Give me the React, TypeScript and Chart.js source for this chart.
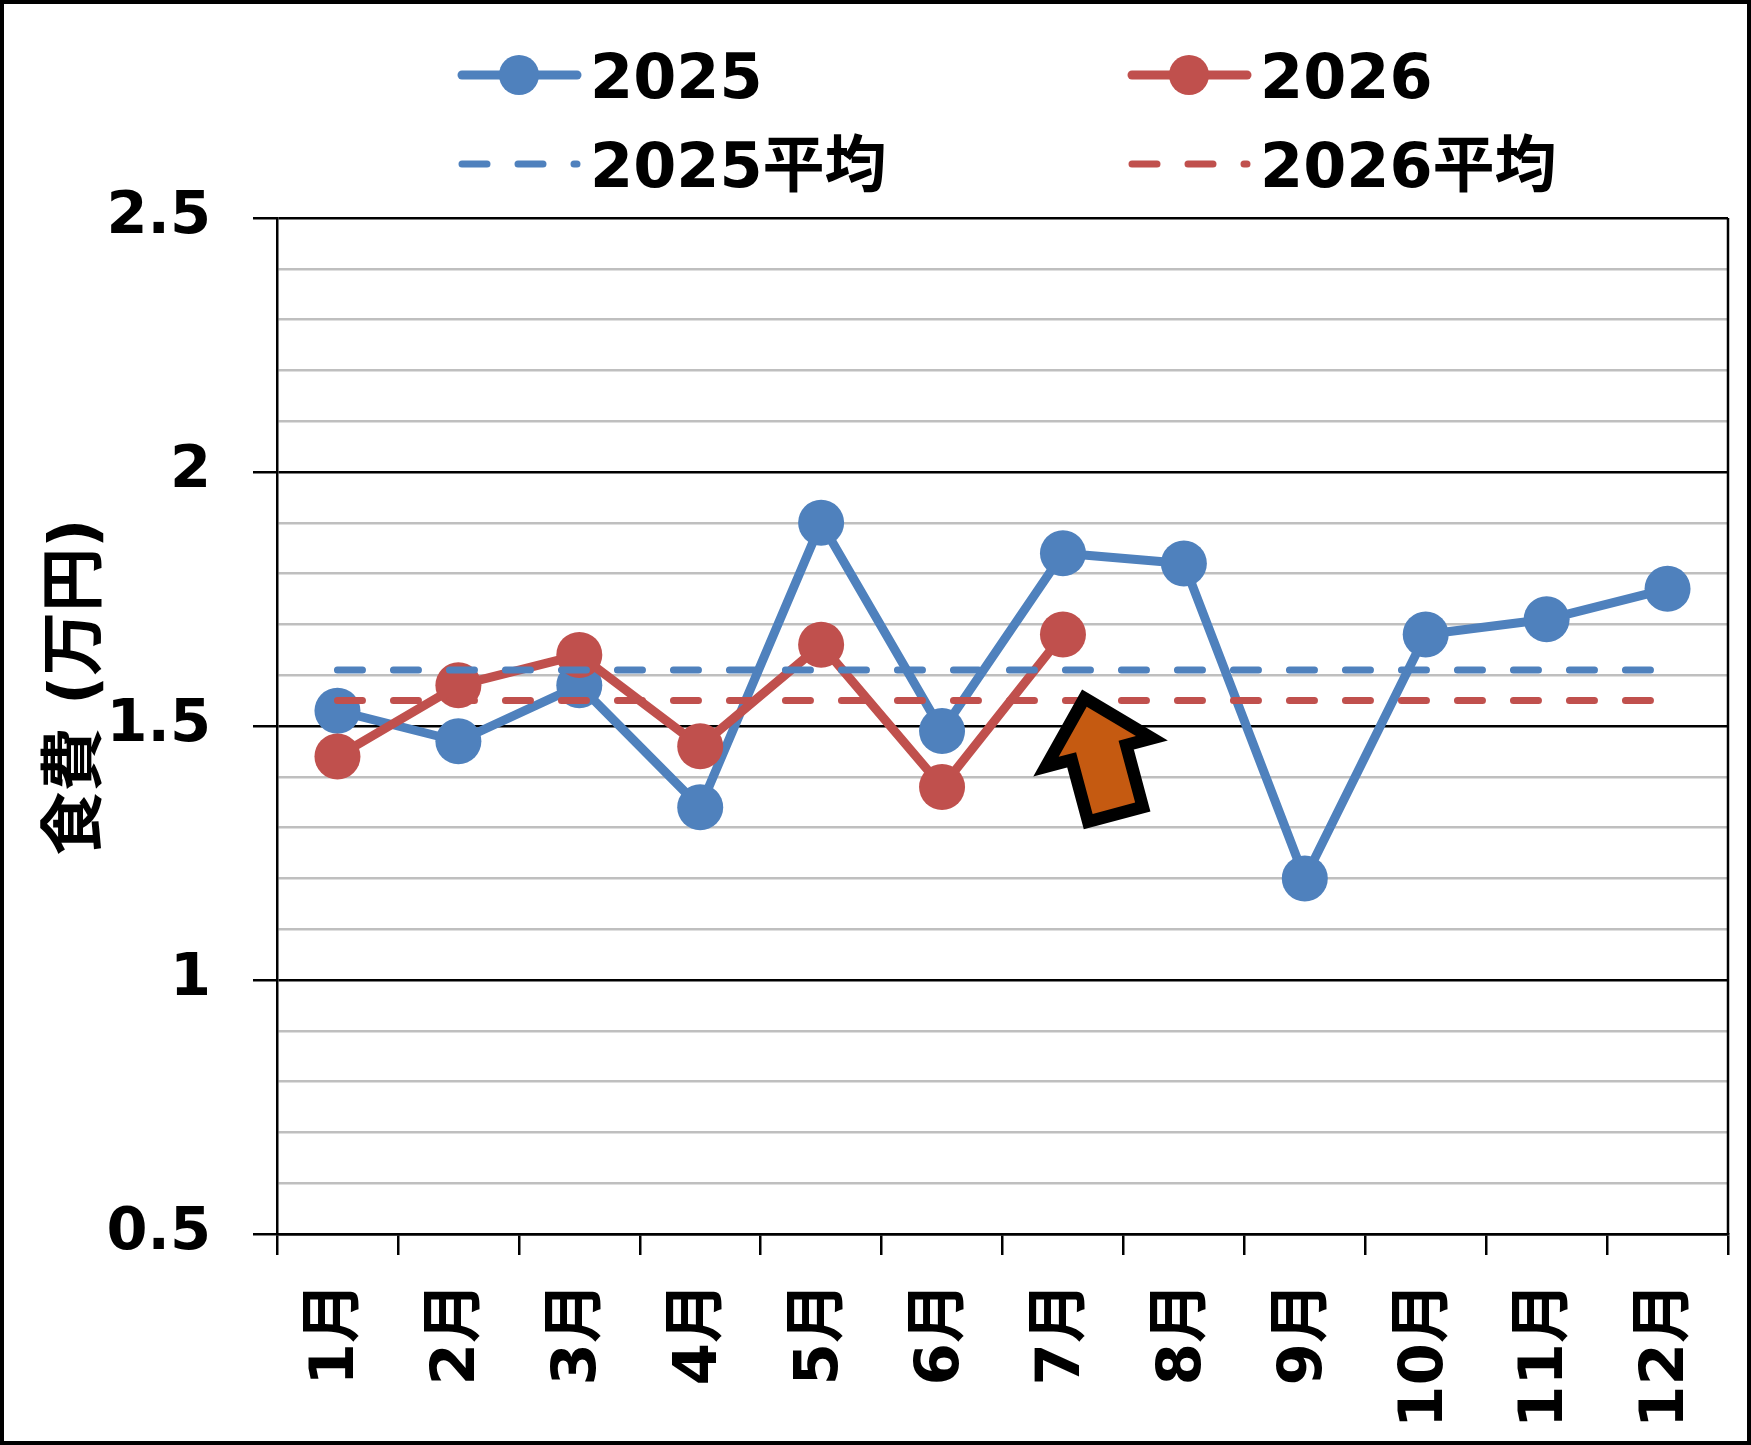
import React, { useEffect, useRef } from 'react';
import Chart from 'chart.js/auto';

const months = ['1月', '2月', '3月', '4月', '5月', '6月', '7月', '8月', '9月', '10月', '11月', '12月'];
const food2025 = [1.53, 1.47, 1.58, 1.34, 1.9, 1.49, 1.84, 1.82, 1.2, 1.68, 1.71, 1.77];
const food2026 = [1.44, 1.58, 1.64, 1.46, 1.66, 1.38, 1.68, null, null, null, null, null];
const avg2025 = [1.61, 1.61, 1.61, 1.61, 1.61, 1.61, 1.61, 1.61, 1.61, 1.61, 1.61, 1.61];
const avg2026 = [1.55, 1.55, 1.55, 1.55, 1.55, 1.55, 1.55, 1.55, 1.55, 1.55, 1.55, 1.55];
const yLabelTicks = [0.5, 1, 1.5, 2, 2.5];
const seriesNames = ['2025', '2026', '2025平均', '2026平均'];
const yTitle = '食費 (万円)';
// where the arrow's tip points (category index, value)
const arrowAt = { x: 6.16, y: 1.57 };

const FONT = '"DejaVu Sans", "Noto Sans CJK JP", sans-serif';
const BLUE = '#4F81BD';
const RED = '#C0504D';

const isMajor = (v: number) => yLabelTicks.some((t) => Math.abs(t - v) < 1e-6);

const decorations = {
  id: 'decorations',
  beforeDatasetsDraw(chart: any) {
    const { ctx, chartArea: a } = chart;
    // right edge of the plot box
    ctx.save();
    ctx.strokeStyle = '#000';
    ctx.lineWidth = 2.5;
    ctx.beginPath();
    ctx.moveTo(a.right, a.top);
    ctx.lineTo(a.right, a.bottom);
    ctx.stroke();
    ctx.restore();
  },
  afterDraw(chart: any) {
    const { ctx } = chart;

    // y axis title
    ctx.save();
    ctx.translate(74, 683);
    ctx.rotate(-Math.PI / 2);
    ctx.font = `bold 64px ${FONT}`;
    ctx.fillStyle = '#000';
    ctx.textAlign = 'center';
    ctx.textBaseline = 'middle';
    ctx.fillText(yTitle, 0, 0);
    ctx.restore();

    // legend, two columns by two rows
    const cols = [454, 1124];
    const rows = [71, 160];
    chart.data.datasets.forEach((ds: any, i: number) => {
      const x0 = cols[i % 2];
      const y = rows[Math.floor(i / 2)];
      ctx.save();
      ctx.strokeStyle = ds.borderColor;
      ctx.lineWidth = ds.borderWidth;
      ctx.lineCap = 'round';
      ctx.setLineDash(ds.borderDash || []);
      ctx.beginPath();
      ctx.moveTo(x0 + 4, y);
      ctx.lineTo(x0 + 119, y);
      ctx.stroke();
      if (ds.pointRadius > 0) {
        ctx.setLineDash([]);
        ctx.fillStyle = ds.borderColor;
        ctx.beginPath();
        ctx.arc(x0 + 61, y, 20, 0, Math.PI * 2);
        ctx.fill();
      }
      ctx.font = `bold 62px ${FONT}`;
      ctx.fillStyle = '#000';
      ctx.textAlign = 'left';
      ctx.textBaseline = 'alphabetic';
      ctx.fillText(ds.label, x0 + 132, y + 23);
      ctx.restore();
    });

    // orange arrow
    const px = chart.scales.x.getPixelForValue(arrowAt.x);
    const py = chart.scales.y.getPixelForValue(arrowAt.y);
    const shape = [
      [0, 17], [40, 58], [22, 58], [22, 122], [-22, 122], [-22, 58], [-40, 58],
    ];
    ctx.save();
    ctx.translate(px, py);
    ctx.rotate((-15 * Math.PI) / 180);
    ctx.beginPath();
    shape.forEach(([sx, sy], k) => (k === 0 ? ctx.moveTo(sx, sy) : ctx.lineTo(sx, sy)));
    ctx.closePath();
    ctx.lineJoin = 'miter';
    ctx.miterLimit = 10;
    ctx.lineWidth = 25;
    ctx.strokeStyle = '#000';
    ctx.stroke();
    ctx.fillStyle = '#C55A11';
    ctx.fill();
    ctx.restore();
  },
};

export default function App() {
  const canvasRef = useRef<HTMLCanvasElement>(null);

  useEffect(() => {
    document.body.style.margin = '0';
    if (!canvasRef.current) return;

    const chart = new Chart(canvasRef.current, {
      type: 'line',
      data: {
        labels: months,
        datasets: [
          {
            label: seriesNames[0],
            data: food2025,
            borderColor: BLUE,
            backgroundColor: BLUE,
            pointBackgroundColor: BLUE,
            borderWidth: 9,
            borderCapStyle: 'round',
            borderJoinStyle: 'round',
            pointRadius: 23,
            pointHoverRadius: 23,
            pointBorderWidth: 0,
            tension: 0,
            order: 4,
          },
          {
            label: seriesNames[1],
            data: food2026,
            borderColor: RED,
            backgroundColor: RED,
            pointBackgroundColor: RED,
            borderWidth: 9,
            borderCapStyle: 'round',
            borderJoinStyle: 'round',
            pointRadius: 23,
            pointHoverRadius: 23,
            pointBorderWidth: 0,
            tension: 0,
            order: 3,
          },
          {
            label: seriesNames[2],
            data: avg2025,
            borderColor: BLUE,
            borderWidth: 7,
            borderDash: [25, 31],
            borderCapStyle: 'round',
            pointRadius: 0,
            pointHoverRadius: 0,
            order: 2,
          },
          {
            label: seriesNames[3],
            data: avg2026,
            borderColor: RED,
            borderWidth: 7,
            borderDash: [25, 31],
            borderCapStyle: 'round',
            pointRadius: 0,
            pointHoverRadius: 0,
            order: 1,
          },
        ],
      },
      options: {
        responsive: false,
        animation: false,
        events: [],
        layout: { autoPadding: false, padding: { top: 214, right: 19, left: 0, bottom: 0 } },
        plugins: {
          legend: { display: false },
          tooltip: { enabled: false },
          title: { display: false },
        },
        scales: {
          x: {
            type: 'category',
            offset: true,
            grid: {
              offset: true,
              drawOnChartArea: false,
              drawTicks: true,
              tickLength: 21,
              color: '#000',
              lineWidth: 2.5,
            },
            border: { display: true, color: '#000', width: 2.5 },
            ticks: {
              autoSkip: false,
              minRotation: 90,
              maxRotation: 90,
              padding: 27,
              color: '#000',
              font: { family: FONT, size: 61, weight: 'bold' },
            },
            afterFit: (scale: any) => {
              scale.height = 207;
              scale.paddingLeft = 0;
              scale.paddingRight = 0;
            },
          },
          y: {
            min: 0.5,
            max: 2.5,
            grid: {
              color: (c: any) => (isMajor(c.tick.value) ? '#000' : '#BFBFBF'),
              tickColor: (c: any) => (isMajor(c.tick.value) ? '#000' : 'rgba(0,0,0,0)'),
              lineWidth: 2.5,
              tickLength: 24,
            },
            border: { display: true, color: '#000', width: 2.5 },
            ticks: {
              stepSize: 0.1,
              maxTicksLimit: 50,
              autoSkip: false,
              padding: 42,
              color: '#000',
              font: { family: FONT, size: 59, weight: 'bold' },
              callback: (v: any) => (isMajor(Number(v)) ? String(Number(v)) : ''),
            },
            afterFit: (scale: any) => {
              scale.width = 273;
            },
          },
        },
      },
      plugins: [decorations],
    } as any);

    return () => {
      chart.destroy();
    };
  }, []);

  return (
    <div
      style={{
        position: 'absolute',
        left: 0,
        top: 0,
        width: 1751,
        height: 1445,
        boxSizing: 'border-box',
        border: '4px solid #000',
        background: '#fff',
      }}
    >
      <canvas ref={canvasRef} width={1743} height={1437} style={{ display: 'block' }}></canvas>
    </div>
  );
}
